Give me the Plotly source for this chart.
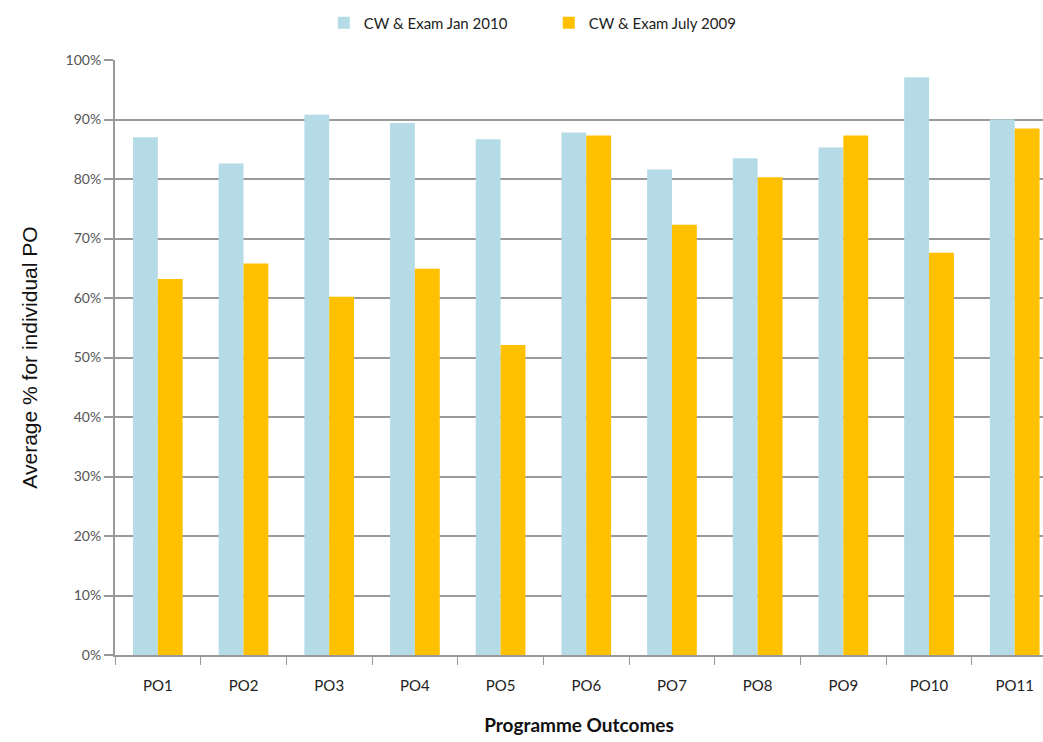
import plotly.graph_objects as go

categories = ["PO1", "PO2", "PO3", "PO4", "PO5", "PO6", "PO7", "PO8", "PO9", "PO10", "PO11"]
jan_2010 = [87.0, 82.6, 90.8, 89.4, 86.7, 87.8, 81.6, 83.5, 85.3, 97.1, 90.0]
july_2009 = [63.2, 65.8, 60.2, 64.9, 52.1, 87.3, 72.3, 80.3, 87.3, 67.6, 88.5]
y_ticks = [0, 10, 20, 30, 40, 50, 60, 70, 80, 90, 100]
y_tick_labels = [f"{v}%" for v in y_ticks]

FONT = "Lato, Open Sans, sans-serif"

fig = go.Figure()
fig.add_trace(go.Bar(x=categories, y=jan_2010, name="CW & Exam Jan 2010",
                     marker=dict(color="#B5DCE6", line=dict(width=0))))
fig.add_trace(go.Bar(x=categories, y=july_2009, name="CW & Exam July 2009",
                     marker=dict(color="#FFC000", line=dict(width=0))))

fig.update_layout(
    width=1043, height=742,
    margin=dict(l=115, r=0, t=60, b=87),
    paper_bgcolor="white", plot_bgcolor="white",
    barmode="group", bargap=0.42, bargroupgap=0,
    font=dict(family=FONT, color="#222"),
    showlegend=True,
    legend=dict(orientation="h", x=0.225, y=1.062, xanchor="left", yanchor="middle",
                entrywidth=180, entrywidthmode="pixels",
                font=dict(size=15, color="#222"), bgcolor="rgba(0,0,0,0)"),
    xaxis=dict(
        range=[-0.5, 10.33],
        showline=True, linecolor="#999", linewidth=2,
        ticks="outside", tickcolor="#999", ticklen=8, tickwidth=1,
        tickson="boundaries",
        ticklabelstandoff=16,
        tickfont=dict(size=15, color="#222"),
        title=dict(text="<b>Programme Outcomes</b>", font=dict(size=19, color="#111"), standoff=26),
        showgrid=False,
    ),
    yaxis=dict(
        range=[0, 100],
        tickvals=y_ticks, ticktext=y_tick_labels,
        showline=True, linecolor="#999", linewidth=2,
        ticks="outside", tickcolor="#999", ticklen=9, tickwidth=2,
        showgrid=True, gridcolor="#9a9a9a", gridwidth=2,
        tickfont=dict(size=14, color="#555"),
        title=dict(text="Average % for individual PO",
                   font=dict(family="Liberation Sans, Arial, sans-serif", size=21, color="#111"),
                   standoff=22),
        zeroline=False,
    ),
)

fig.write_html("out.html")
